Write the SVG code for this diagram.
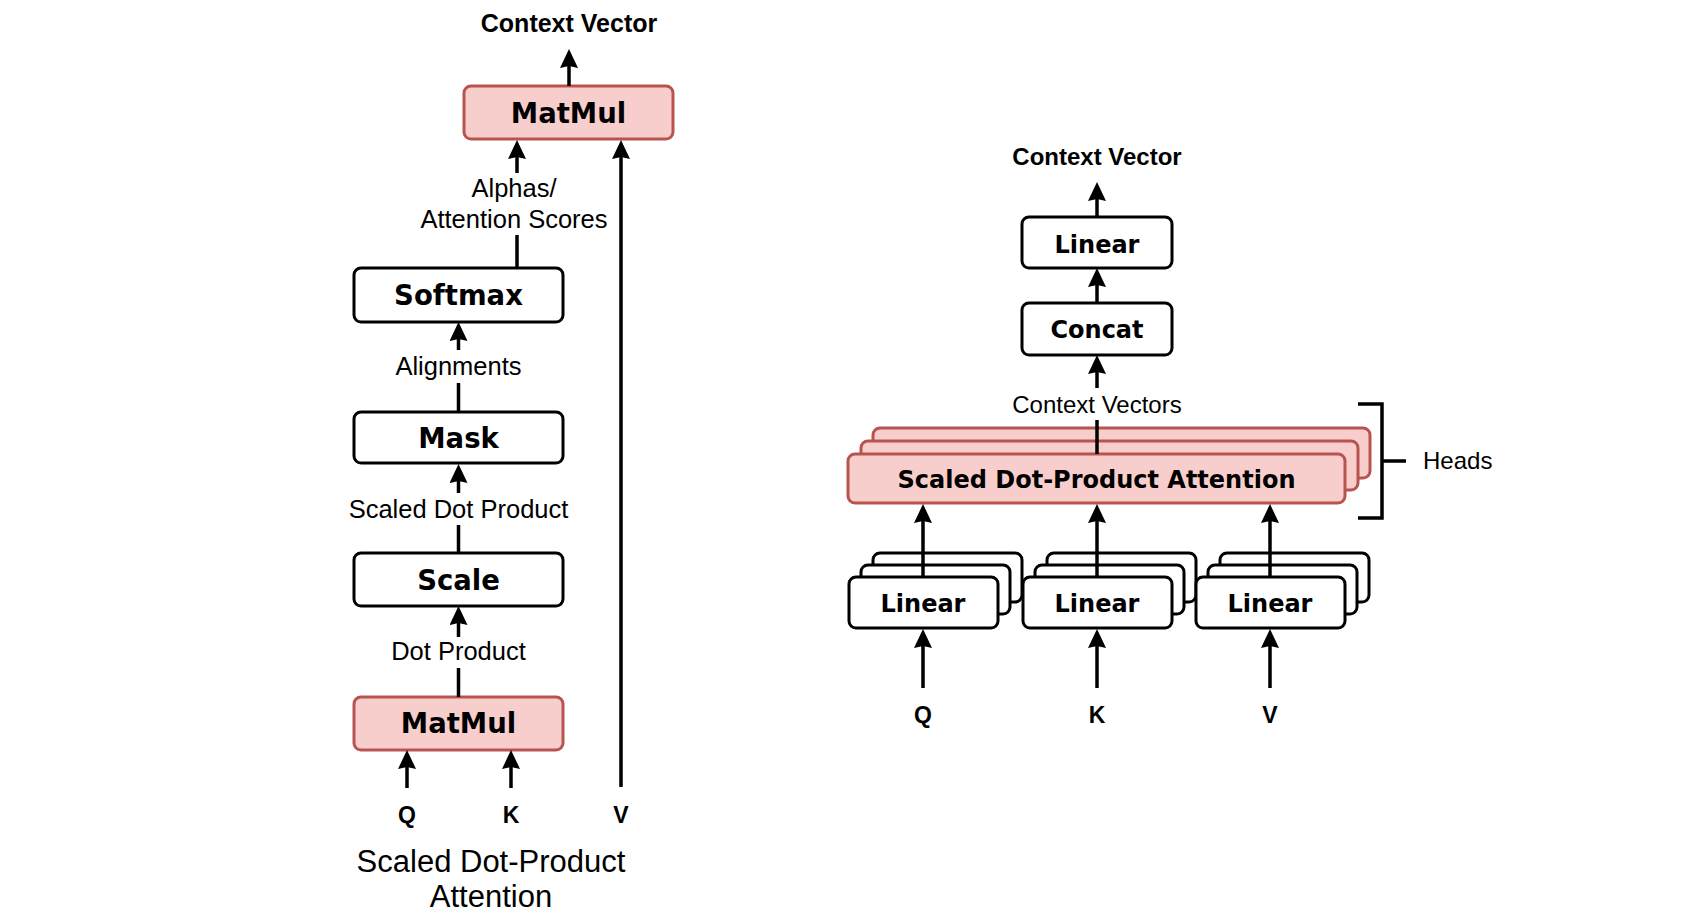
<svg xmlns="http://www.w3.org/2000/svg" width="1700" height="919" viewBox="0 0 1700 919">
<style>
.box{fill:#ffffff;stroke:#000000;stroke-width:3}
.red{fill:#f8cecc;stroke:#b85450;stroke-width:3}
.bl{font-family:"DejaVu Sans",Verdana,sans-serif;font-weight:bold;fill:#000;text-anchor:middle}
.t{font-family:"Liberation Sans",Arial,sans-serif;fill:#000;text-anchor:middle}
.tb{font-family:"Liberation Sans",Arial,sans-serif;font-weight:bold;fill:#000;text-anchor:middle}
.ln{stroke:#000;stroke-width:3.5;fill:none}
.ar{stroke:#000;stroke-width:3.5;fill:none;marker-end:url(#arr)}
</style>
<defs>
<marker id="arr" markerUnits="userSpaceOnUse" markerWidth="20" markerHeight="20" viewBox="0 0 20 20" refX="9" refY="9" orient="auto"><path d="M0,0 L19,9 L0,18 L2,9 Z" fill="#000"/></marker>
</defs>
<rect width="1700" height="919" fill="#ffffff"/>

<!-- Left diagram -->
<text class="tb" x="569" y="32" font-size="25">Context Vector</text>
<g id="matmul-top"><rect class="red" x="464" y="86" width="209" height="53" rx="7"/><text class="bl" x="568.5" y="123" font-size="27.5">MatMul</text></g>
<g id="softmax"><rect class="box" x="354" y="268" width="209" height="54" rx="7"/><text class="bl" x="458.5" y="305" font-size="27.5">Softmax</text></g>
<g id="mask"><rect class="box" x="354" y="412" width="209" height="51" rx="7"/><text class="bl" x="458.5" y="448" font-size="27.5">Mask</text></g>
<g id="scale"><rect class="box" x="354" y="553" width="209" height="53" rx="7"/><text class="bl" x="458.5" y="590" font-size="27.5">Scale</text></g>
<g id="matmul-bottom"><rect class="red" x="354" y="697" width="209" height="53" rx="7"/><text class="bl" x="458.5" y="733" font-size="27.5">MatMul</text></g>

<g id="left-labels">
<text class="t" x="514" y="197" font-size="25.5">Alphas/</text>
<text class="t" x="514" y="228" font-size="25.5">Attention Scores</text>
<text class="t" x="458.5" y="375" font-size="25.5">Alignments</text>
<text class="t" x="458.5" y="518" font-size="25.5">Scaled Dot Product</text>
<text class="t" x="458.5" y="660" font-size="25.5">Dot Product</text>
<text class="tb" x="407" y="823" font-size="23">Q</text>
<text class="tb" x="511" y="823" font-size="23">K</text>
<text class="tb" x="621" y="823" font-size="23">V</text>
<text class="t" x="491" y="872" font-size="31">Scaled Dot-Product</text>
<text class="t" x="491" y="907" font-size="31">Attention</text>
</g>

<!-- Right diagram -->
<text class="tb" x="1097" y="165" font-size="24">Context Vector</text>
<g id="linear-out"><rect class="box" x="1022" y="217" width="150" height="51" rx="7"/><text class="bl" x="1097" y="253" font-size="24">Linear</text></g>
<g id="concat"><rect class="box" x="1022" y="303" width="150" height="52" rx="7"/><text class="bl" x="1097" y="338" font-size="24">Concat</text></g>
<text class="t" x="1097" y="413" font-size="24">Context Vectors</text>

<g id="sdpa-heads">
<rect class="red" x="873" y="428" width="497" height="50" rx="7"/>
<rect class="red" x="861" y="441" width="497" height="49" rx="7"/>
<rect class="red" x="848" y="454" width="497" height="49" rx="7"/>
<text class="bl" x="1096.5" y="488" font-size="24">Scaled Dot-Product Attention</text>
</g>

<g id="heads-bracket">
<path class="ln" d="M1358,404 H1382 V518 H1358 M1382,461 H1406"/>
<text class="t" x="1423" y="469" font-size="24" style="text-anchor:start">Heads</text>
</g>

<g id="linear-q">
<rect class="box" x="873" y="553" width="149" height="49" rx="7"/>
<rect class="box" x="861" y="565" width="149" height="49" rx="7"/>
<rect class="box" x="849" y="577" width="149" height="51" rx="7"/>
<text class="bl" x="923" y="612" font-size="24">Linear</text>
</g>
<g id="linear-k">
<rect class="box" x="1047" y="553" width="149" height="49" rx="7"/>
<rect class="box" x="1035" y="565" width="149" height="49" rx="7"/>
<rect class="box" x="1023" y="577" width="149" height="51" rx="7"/>
<text class="bl" x="1097" y="612" font-size="24">Linear</text>
</g>
<g id="linear-v">
<rect class="box" x="1220" y="553" width="149" height="49" rx="7"/>
<rect class="box" x="1208" y="565" width="149" height="49" rx="7"/>
<rect class="box" x="1196" y="577" width="149" height="51" rx="7"/>
<text class="bl" x="1270" y="612" font-size="24">Linear</text>
</g>
<g id="right-inputs">
<text class="tb" x="923" y="723" font-size="23">Q</text>
<text class="tb" x="1097" y="723" font-size="23">K</text>
<text class="tb" x="1270" y="723" font-size="23">V</text>
</g>

<g id="connectors">
<line class="ar" x1="569" y1="86" x2="569" y2="59"/>
<line class="ar" x1="517" y1="173" x2="517" y2="150"/>
<line class="ln" x1="517" y1="235" x2="517" y2="268"/>
<line class="ar" x1="621" y1="787" x2="621" y2="150"/>
<line class="ar" x1="458.5" y1="350" x2="458.5" y2="332"/>
<line class="ln" x1="458.5" y1="383" x2="458.5" y2="412"/>
<line class="ar" x1="458.5" y1="493" x2="458.5" y2="474"/>
<line class="ln" x1="458.5" y1="525" x2="458.5" y2="553"/>
<line class="ar" x1="458.5" y1="637" x2="458.5" y2="616"/>
<line class="ln" x1="458.5" y1="668" x2="458.5" y2="697"/>
<line class="ar" x1="407" y1="788" x2="407" y2="760"/>
<line class="ar" x1="511" y1="788" x2="511" y2="760"/>

<line class="ar" x1="1097" y1="217" x2="1097" y2="192"/>
<line class="ar" x1="1097" y1="303" x2="1097" y2="278"/>
<line class="ar" x1="1097" y1="388" x2="1097" y2="365"/>
<line class="ln" x1="1097" y1="420" x2="1097" y2="454"/>
<line class="ar" x1="923" y1="577" x2="923" y2="514"/>
<line class="ar" x1="1097" y1="577" x2="1097" y2="514"/>
<line class="ar" x1="1270" y1="577" x2="1270" y2="514"/>
<line class="ar" x1="923" y1="688" x2="923" y2="639"/>
<line class="ar" x1="1097" y1="688" x2="1097" y2="639"/>
<line class="ar" x1="1270" y1="688" x2="1270" y2="639"/>
</g>
</svg>
